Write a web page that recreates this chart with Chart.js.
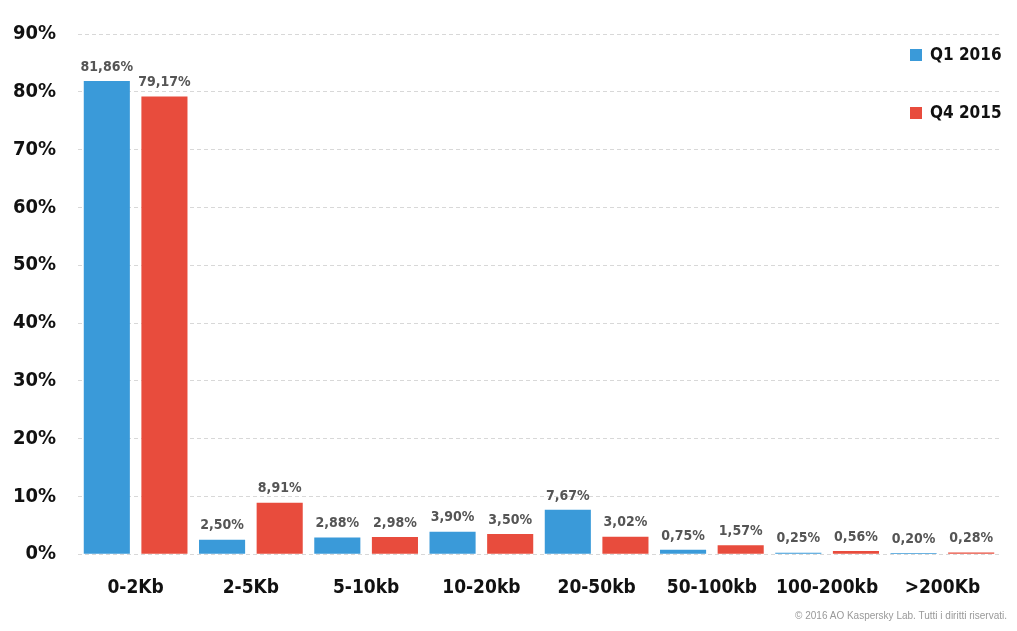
<!DOCTYPE html>
<html>
<head>
<meta charset="utf-8">
<script src="https://cdn.jsdelivr.net/npm/chart.js@4/dist/chart.umd.min.js"></script>
<style>
  body { margin: 0; background: #fff; font-family: "DejaVu Sans Condensed", "DejaVu Sans", sans-serif; }
  #wrap { position: relative; width: 1017px; height: 631px; }
  #legend { position: absolute; left: 910px; top: 44px; font-weight: bold; font-size: 17px; color: #111; }
  #legend div { height: 58px; display: flex; align-items: flex-start; }
  #legend span.box { display: inline-block; width: 12px; height: 12px; margin: 5px 8px 0 0; }
  #copy { position: absolute; right: 10px; bottom: 10px; font-size: 10px; color: #999; font-family: "Liberation Sans", sans-serif; }
</style>
</head>
<body>
<div id="wrap">
  <canvas id="chart" width="1017" height="631"></canvas>
  <div id="legend">
    <div><span class="box" style="background:#3a9ad9"></span>Q1 2016</div>
    <div><span class="box" style="background:#e84c3d"></span>Q4 2015</div>
  </div>
  <div id="copy">© 2016 AO Kaspersky Lab. Tutti i diritti riservati.</div>
</div>
<script>
const categories = ['0-2Kb', '2-5Kb', '5-10kb', '10-20kb', '20-50kb', '50-100kb', '100-200kb', '>200Kb'];
const q1_2016 = [81.86, 2.50, 2.88, 3.90, 7.67, 0.75, 0.25, 0.20];
const q4_2015 = [79.17, 8.91, 2.98, 3.50, 3.02, 1.57, 0.56, 0.28];
const yTicks = [0, 10, 20, 30, 40, 50, 60, 70, 80, 90];

const valueLabels = {
    id: 'valueLabels',
    afterDatasetsDraw(chart) {
        const ctx = chart.ctx;
        ctx.save();
        ctx.font = 'bold 14px "DejaVu Sans Condensed", sans-serif';
        ctx.fillStyle = '#555';
        ctx.textAlign = 'center';
        ctx.textBaseline = 'bottom';
        chart.data.datasets.forEach((ds, i) => {
            chart.getDatasetMeta(i).data.forEach((bar, j) => {
                const txt = ds.data[j].toFixed(2).replace('.', ',') + '%';
                ctx.fillText(txt, bar.x, bar.y - 7);
            });
        });
        ctx.restore();
    }
};

new Chart(document.getElementById('chart'), {
    type: 'bar',
    data: {
        labels: categories,
        datasets: [
            { label: 'Q1 2016', data: q1_2016, backgroundColor: '#3a9ad9' },
            { label: 'Q4 2015', data: q4_2015, backgroundColor: '#e84c3d' }
        ]
    },
    options: {
        responsive: false,
        animation: false,
        layout: { padding: { top: 17, right: 17, bottom: 18 } },
        datasets: { bar: { barPercentage: 0.8, categoryPercentage: 1.0 } },
        plugins: { legend: { display: false }, tooltip: { enabled: false } },
        scales: {
            x: {
                grid: { display: false },
                border: { display: false },
                ticks: { color: '#111', font: { family: '"DejaVu Sans Condensed", sans-serif', size: 19, weight: 'bold' }, padding: 14 }
            },
            y: {
                min: 0, max: 90,
                afterBuildTicks(axis) { axis.ticks = yTicks.map(v => ({ value: v })); },
                afterFit(axis) { axis.width = 78; },
                grid: { color: '#d8d8d8', drawTicks: false },
                border: { display: false, dash: [4, 3] },
                ticks: {
                    color: '#111', padding: 22,
                    font: { family: '"DejaVu Sans Condensed", sans-serif', size: 20, weight: 'bold' },
                    callback: v => v + '%'
                }
            }
        }
    },
    plugins: [valueLabels]
});
</script>
</body>
</html>
